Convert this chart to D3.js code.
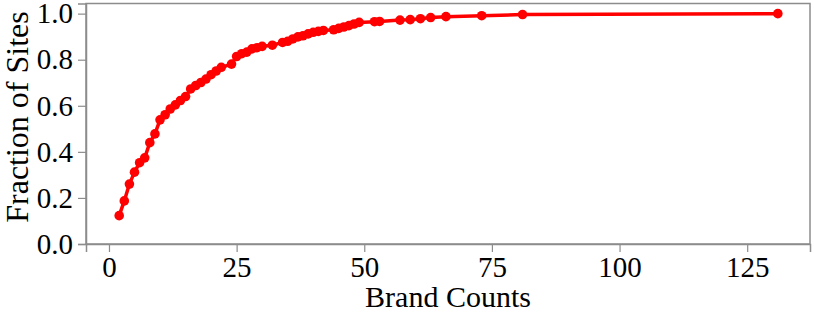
<!DOCTYPE html>
<html>
<head>
<meta charset="utf-8">
<script src="https://cdn.jsdelivr.net/npm/d3@7"></script>
<style>
  body { margin: 0; background: #fff; }
  svg { display: block; }
  svg text { font-family: "Liberation Serif", "DejaVu Serif", serif; fill: #000; }
</style>
</head>
<body>
<svg width="814" height="318"></svg>
<script>
// values
var brandCounts = [2, 3, 4, 5, 6, 7, 8, 9, 10, 11, 12, 13, 14, 15, 16, 17, 18, 19, 20, 21, 22,
  24, 25, 26, 27, 28, 29, 30, 32, 34, 35, 36, 37, 38, 39, 40, 41, 42,
  44, 45, 46, 47, 48, 49, 52, 53, 57, 59, 61, 63, 66, 73, 81, 131];
var fractions = [0.123, 0.187, 0.26, 0.312, 0.353, 0.374, 0.44, 0.478, 0.539, 0.561, 0.586, 0.604,
  0.623, 0.64, 0.673, 0.688, 0.701, 0.716, 0.735, 0.751, 0.767,
  0.781, 0.814, 0.826, 0.833, 0.847, 0.852, 0.858, 0.863, 0.875, 0.88, 0.89, 0.899, 0.904,
  0.912, 0.919, 0.923, 0.927, 0.93, 0.936, 0.942, 0.948, 0.955, 0.962, 0.965, 0.966,
  0.972, 0.974, 0.978, 0.983, 0.987, 0.991, 0.996, 1.0];
var xTicks = [0, 25, 50, 75, 100, 125];
var yTicks = [0.0, 0.2, 0.4, 0.6, 0.8, 1.0];

var svg = d3.select('svg');
var plotL = 86, plotR = 810, plotT = 3.5, plotB = 244;
var axisColor = '#8c8c8c';
var serif = '"Liberation Serif", "DejaVu Serif", serif';

var x = d3.scaleLinear().domain([-4.5, 137.3]).range([plotL, plotR]);
var y = d3.scaleLinear().domain([0, 1.044]).range([plotB, plotT]);

// box
svg.append('rect')
  .attr('x', plotL).attr('y', plotT)
  .attr('width', plotR - plotL).attr('height', plotB - plotT)
  .attr('fill', 'none')
  .attr('stroke', axisColor)
  .attr('stroke-width', 1.5);

// minor ticks
var xMinor = d3.range(0, 136, 5).filter(function(v) { return xTicks.indexOf(v) < 0; });
var yMinor = d3.range(0, 21).map(function(i) { return i * 0.05; })
  .filter(function(v) { return Math.round(v * 100) % 20 != 0; });

var gx = svg.append('g').attr('transform', 'translate(0,' + plotB + ')');
gx.call(d3.axisBottom(x).tickValues(xMinor).tickSize(4).tickFormat(''));
gx.call(d3.axisBottom(x).tickValues(xTicks).tickSize(8).tickPadding(4));

var gy = svg.append('g').attr('transform', 'translate(' + plotL + ',0)');
gy.call(d3.axisLeft(y).tickValues(yMinor).tickSize(4).tickFormat(''));
gy.call(d3.axisLeft(y).tickValues(yTicks).tickSize(8).tickPadding(5).tickFormat(d3.format('.1f')));

svg.selectAll('g').attr('font-family', serif);
svg.selectAll('.domain').attr('stroke', axisColor).attr('stroke-width', 1.5);
svg.selectAll('.tick line').attr('stroke', axisColor).attr('stroke-width', 1.2);
svg.selectAll('.tick text')
  .style('font-family', serif)
  .style('font-size', '29px')
  .attr('fill', '#000');

// axis titles
svg.append('text')
  .attr('x', (plotL + plotR) / 2)
  .attr('y', 307)
  .attr('text-anchor', 'middle')
  .style('font-size', '30px')
  .text('Brand Counts');

svg.append('text')
  .attr('transform', 'translate(28,' + 117 + ') rotate(-90)')
  .attr('text-anchor', 'middle')
  .style('font-size', '32px')
  .text('Fraction of Sites');

// the series
var pts = brandCounts.map(function(c, i) { return [c, fractions[i]]; });

svg.append('path')
  .datum(pts)
  .attr('fill', 'none')
  .attr('stroke', '#ff0000')
  .attr('stroke-width', 3.5)
  .attr('stroke-linejoin', 'round')
  .attr('d', d3.line().x(function(d) { return x(d[0]); }).y(function(d) { return y(d[1]); }));

svg.selectAll('circle.pt')
  .data(pts)
  .enter().append('circle')
  .attr('class', 'pt')
  .attr('cx', function(d) { return x(d[0]); })
  .attr('cy', function(d) { return y(d[1]); })
  .attr('r', 4.8)
  .attr('fill', '#ff0000');
</script>
</body>
</html>
